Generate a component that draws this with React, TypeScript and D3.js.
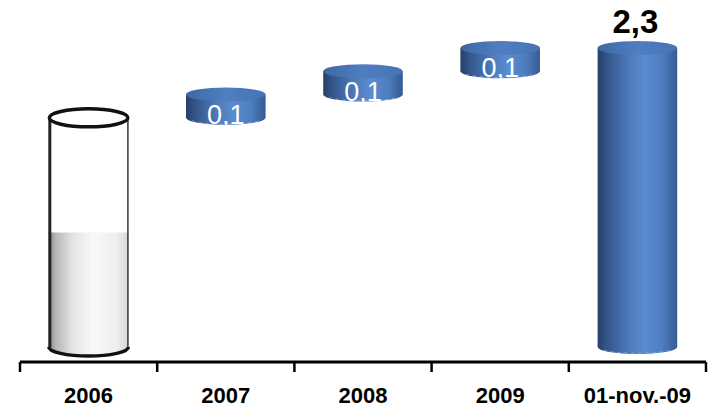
import React from "react";
import * as d3 from "d3";

const categories = ["2006", "2007", "2008", "2009", "01-nov.-09"];
const values = [2.0, 0.1, 0.1, 0.1, 2.3];
const kinds = ["total", "delta", "delta", "delta", "total"];
const showLabel = [false, true, true, true, true];
const axisMin = 1.015;

const W = 710;
const H = 414;
const FONT = "Arial, 'Liberation Sans', Helvetica, sans-serif";

const fmt = (v: number) => d3.format(".1f")(v).replace(".", ",");

export default function App() {
  const x = d3
    .scaleBand<string>()
    .domain(categories)
    .range([20, 706])
    .paddingInner(0.42)
    .paddingOuter(0.21);
  const y = d3.scaleLinear().domain([axisMin, 2.3]).range([347, 48]);
  const step = x.step();
  const bw = x.bandwidth();
  const rx = bw / 2;

  let running = axisMin;
  const bars = categories.map((c, i) => {
    let start: number, end: number;
    if (kinds[i] === "total") {
      start = axisMin;
      end = values[i];
      running = values[i];
    } else {
      start = running;
      end = running + values[i];
      running = end;
    }
    return { c, i, start, end, v: values[i] };
  });

  const axisY = 362;
  const x0 = (x(categories[0]) as number) - (step * 0.42) / 2;
  const ticks = d3.range(categories.length + 1).map((k) => x0 + k * step);

  return (
    <svg
      width={W}
      height={H}
      style={{ position: "absolute", left: 0, top: 0, background: "#fff" }}
    >
      <defs>
        <linearGradient id="blueBody" x1="0" x2="1" y1="0" y2="0">
          <stop offset="0%" stopColor="#263f66" />
          <stop offset="12%" stopColor="#34568a" />
          <stop offset="40%" stopColor="#4d7bbd" />
          <stop offset="60%" stopColor="#5b8bd0" />
          <stop offset="82%" stopColor="#4d7cbf" />
          <stop offset="100%" stopColor="#355b92" />
        </linearGradient>
        <linearGradient id="blueTop" x1="0" x2="1" y1="0" y2="0">
          <stop offset="0%" stopColor="#3d67a3" />
          <stop offset="50%" stopColor="#4f7fc1" />
          <stop offset="100%" stopColor="#4673b3" />
        </linearGradient>
        <linearGradient id="grayBody" x1="0" x2="1" y1="0" y2="0">
          <stop offset="0%" stopColor="#7e7e7e" />
          <stop offset="8%" stopColor="#b4b4b4" />
          <stop offset="30%" stopColor="#e4e4e4" />
          <stop offset="55%" stopColor="#f8f8f8" />
          <stop offset="85%" stopColor="#efefef" />
          <stop offset="100%" stopColor="#d6d6d6" />
        </linearGradient>
      </defs>

      {bars.map((b) => {
        const cx = (x(b.c) as number) + bw / 2;
        const left = cx - rx;
        const right = cx + rx;
        const yb = y(b.start);
        const yt = y(b.end);
        if (b.i === 0) {
          const ry = 9;
          const mid = (yb + yt) / 2;
          return (
            <g key={b.c}>
              <path
                d={`M${left},${yt} L${left},${yb} A${rx},${ry} 0 0 0 ${right},${yb} L${right},${yt} Z`}
                fill="#fff"
              />
              <path
                d={`M${left},${mid} L${left},${yb} A${rx},${ry} 0 0 0 ${right},${yb} L${right},${mid} Z`}
                fill="url(#grayBody)"
              />
              <path
                d={`M${left},${yb} A${rx},${ry} 0 0 0 ${right},${yb}`}
                fill="none"
                stroke="#111"
                strokeWidth={3.5}
              />
              <line x1={left + 1} x2={left + 1} y1={yt} y2={yb} stroke="#222" strokeWidth={3} />
              <line x1={right - 0.5} x2={right - 0.5} y1={yt} y2={yb} stroke="#444" strokeWidth={1.6} />
              <ellipse cx={cx} cy={yt} rx={rx - 0.5} ry={ry} fill="#fff" stroke="#111" strokeWidth={3.5} />
            </g>
          );
        }
        const ry = 7;
        return (
          <g key={b.c}>
            <path
              d={`M${left},${yt} L${left},${yb} A${rx},${ry} 0 0 0 ${right},${yb} L${right},${yt} Z`}
              fill="url(#blueBody)"
            />
            <path
              d={`M${left + 6},${yb + 3} A${rx},${ry} 0 0 0 ${right - 6},${yb + 3}`}
              fill="none"
              stroke="#9fb8dc"
              strokeWidth={1}
              strokeDasharray="3 4"
              opacity={0.7}
            />
            <ellipse cx={cx} cy={yt} rx={rx} ry={ry} fill="url(#blueTop)" />
            {showLabel[b.i] && kinds[b.i] === "delta" && (
              <text
                x={cx}
                y={yb + 6}
                textAnchor="middle"
                fontFamily={FONT}
                fontSize={27}
                fill="#fff"
              >
                {fmt(b.v)}
              </text>
            )}
            {showLabel[b.i] && kinds[b.i] === "total" && (
              <text
                x={cx - 2}
                y={yt - 15}
                textAnchor="middle"
                fontFamily={FONT}
                fontSize={33}
                fontWeight="bold"
                fill="#000"
              >
                {fmt(b.v)}
              </text>
            )}
          </g>
        );
      })}

      <line x1={ticks[0]} x2={ticks[ticks.length - 1]} y1={axisY} y2={axisY} stroke="#000" strokeWidth={3} />
      {ticks.map((t, k) => (
        <line key={k} x1={t} x2={t} y1={axisY} y2={axisY + 10} stroke="#000" strokeWidth={2.5} />
      ))}
      {categories.map((c) => (
        <text
          key={c}
          x={(x(c) as number) + bw / 2}
          y={403}
          textAnchor="middle"
          fontFamily={FONT}
          fontSize={22}
          fontWeight="bold"
          fill="#000"
        >
          {c}
        </text>
      ))}
    </svg>
  );
}
